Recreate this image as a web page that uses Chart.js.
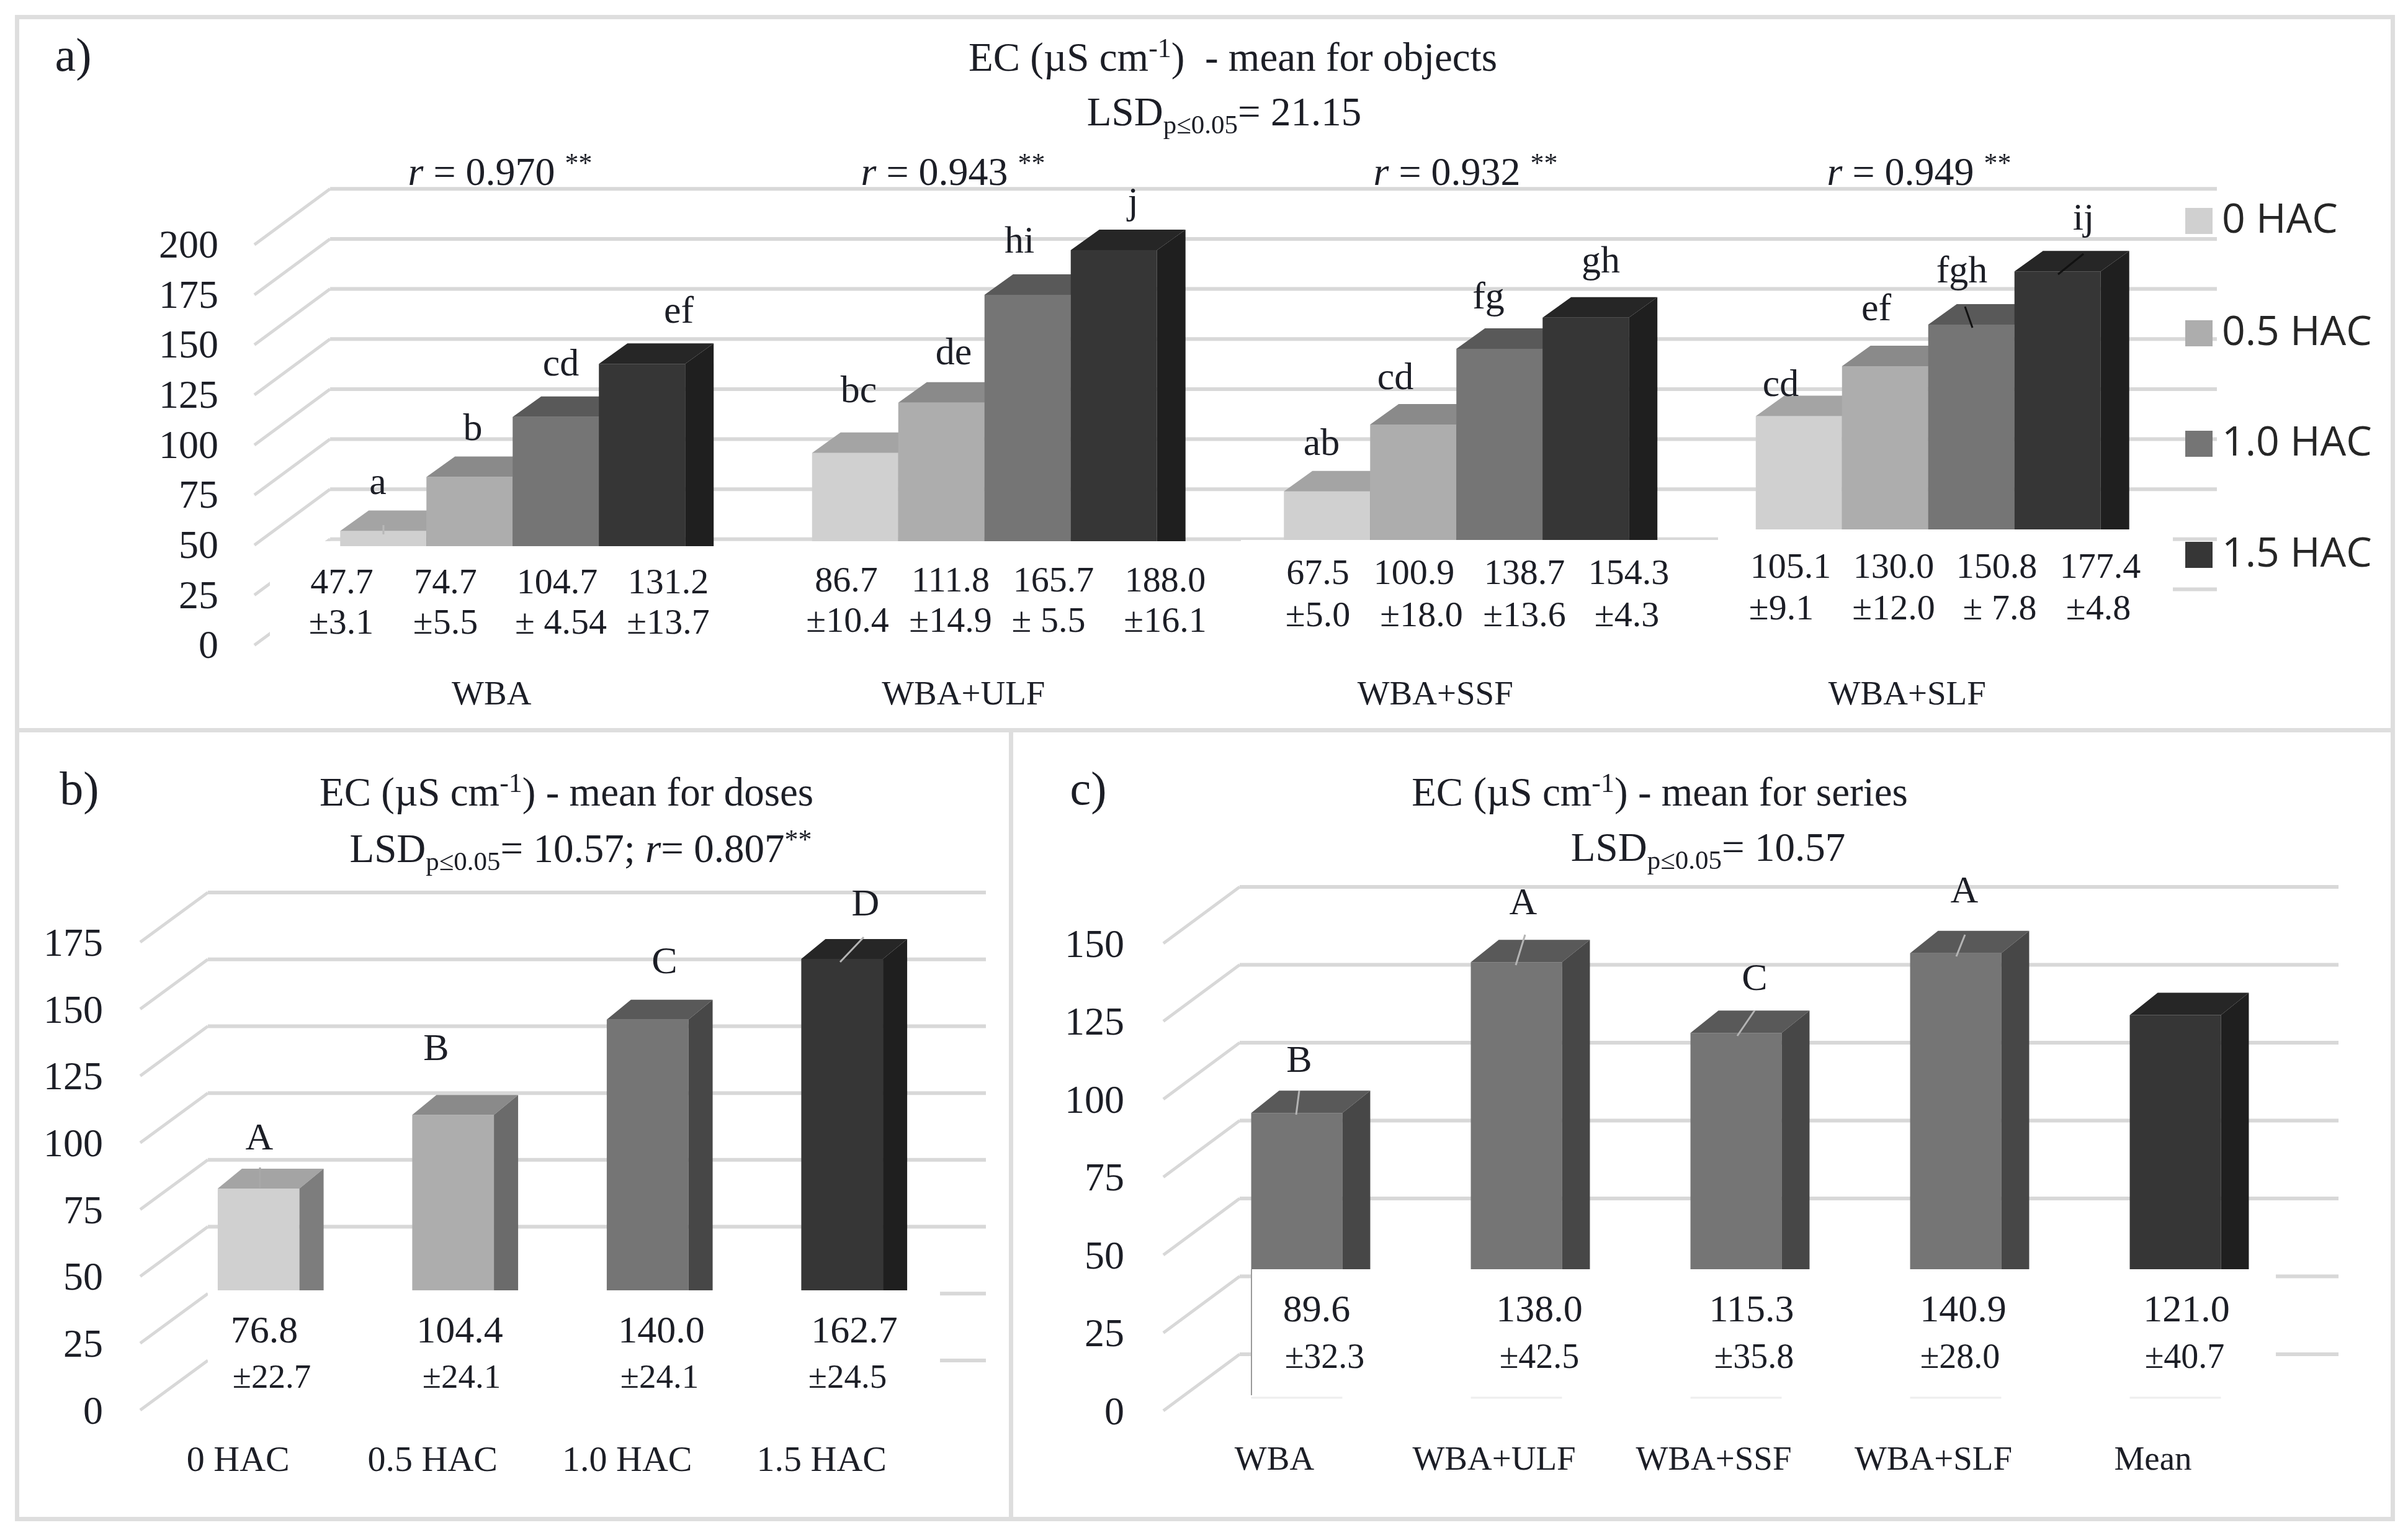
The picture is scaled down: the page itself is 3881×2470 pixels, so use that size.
<!DOCTYPE html>
<html>
<head>
<meta charset="utf-8">
<title>EC mean</title>
<script src="https://cdn.jsdelivr.net/npm/chart.js@4"></script>
<style>
  html, body { margin: 0; padding: 0; background: #fff; overflow: hidden; }
  canvas { position: absolute; left: 0; top: 0; }
  .box { position: absolute; border: 7px solid #dedede; box-sizing: border-box; }
</style>
</head>
<body>
<div class="box" style="left:24px;top:24px;width:3836px;height:1156px"></div>
<div class="box" style="left:24px;top:1173px;width:1609px;height:1278px"></div>
<div class="box" style="left:1626px;top:1173px;width:2234px;height:1278px"></div>
<canvas id="chartA" width="3881" height="2470"></canvas>
<canvas id="chartB" width="3881" height="2470"></canvas>
<canvas id="chartC" width="3881" height="2470"></canvas>
<script>
// data
const objects = ["WBA", "WBA+ULF", "WBA+SSF", "WBA+SLF"];
const doses = ["0 HAC", "0.5 HAC", "1.0 HAC", "1.5 HAC"];
const series = ["WBA", "WBA+ULF", "WBA+SSF", "WBA+SLF", "Mean"];

const hac0 = [47.7, 86.7, 67.5, 105.1];
const hac05 = [74.7, 111.8, 100.9, 130.0];
const hac10 = [104.7, 165.7, 138.7, 150.8];
const hac15 = [131.2, 188.0, 154.3, 177.4];
const objectSd = [
  ["±3.1", "±10.4", "±5.0", "±9.1"],
  ["±5.5", "±14.9", "±18.0", "±12.0"],
  ["± 4.54", "± 5.5", "±13.6", "± 7.8"],
  ["±13.7", "±16.1", "±4.3", "±4.8"]
];
const objectLetters = [
  ["a", "bc", "ab", "cd"],
  ["b", "de", "cd", "ef"],
  ["cd", "hi", "fg", "fgh"],
  ["ef", "j", "gh", "ij"]
];
const objectR = ["0.970", "0.943", "0.932", "0.949"];

const doseMeans = [76.8, 104.4, 140.0, 162.7];
const doseSd = ["±22.7", "±24.1", "±24.1", "±24.5"];
const doseLetters = ["A", "B", "C", "D"];

const seriesMeans = [89.6, 138.0, 115.3, 140.9, 121.0];
const seriesSd = ["±32.3", "±42.5", "±35.8", "±28.0", "±40.7"];
const seriesLetters = ["B", "A", "C", "A", ""];

const tickStep = 25;

// colours: front, top, side
const light = ["#d0d0d0", "#a4a4a4", "#7d7d7d"];
const mid = ["#adadad", "#8a8a8a", "#6b6b6b"];
const dark = ["#757575", "#595959", "#474747"];
const black = ["#363636", "#262626", "#1f1f1f"];

const SERIF = '"Liberation Serif", serif';
const TEXT = "#1c1e26";
const GRID = "#d8d8d8";

// text made of runs: {t, sup, sub, it}
function runs(ctx, parts, cx, cy, size) {
  ctx.textBaseline = "alphabetic";
  ctx.textAlign = "left";
  let total = 0;
  const fontOf = p => (p.it ? "italic " : "") + Math.round(p.sup ? size * 0.68 : p.sub ? size * 0.66 : size) + "px " + SERIF;
  parts.forEach(p => { ctx.font = fontOf(p); total += ctx.measureText(p.t).width; });
  let x = cx - total / 2;
  const base = cy + size * 0.3;
  parts.forEach(p => {
    ctx.font = fontOf(p);
    ctx.fillStyle = TEXT;
    const y = p.sup ? base - size * 0.33 : p.sub ? base + size * 0.2 : base;
    ctx.fillText(p.t, x, y);
    x += ctx.measureText(p.t).width;
  });
}

function label(ctx, text, x, y, size, color) {
  ctx.font = size + "px " + SERIF;
  ctx.fillStyle = color || TEXT;
  ctx.textAlign = "center";
  ctx.textBaseline = "middle";
  ctx.fillText(text, x, y);
}

function line(ctx, x1, y1, x2, y2, color, w) {
  ctx.strokeStyle = color;
  ctx.lineWidth = w;
  ctx.beginPath();
  ctx.moveTo(x1, y1);
  ctx.lineTo(x2, y2);
  ctx.stroke();
}

function face(ctx, pts, color) {
  ctx.fillStyle = color;
  ctx.beginPath();
  pts.forEach((p, i) => i ? ctx.lineTo(p[0], p[1]) : ctx.moveTo(p[0], p[1]));
  ctx.closePath();
  ctx.fill();
}

// pseudo 3D: walls behind the bars, top and side faces on the library's bars.
// chart.js paints the left dataset last, here it has to go first, so the bars get painted by hand
const walls = {
  id: "walls",
  beforeDatasetsDraw(chart, args, o) {
    const ctx = chart.ctx, y = chart.scales.y;
    ctx.save();
    y.ticks.forEach(t => {
      const p = y.getPixelForValue(t.value);
      line(ctx, o.frontX, p + o.front, o.backX, p - o.back, GRID, 5);
      line(ctx, o.backX, p - o.back, o.rightX, p - o.back, GRID, 6);
    });
    ctx.restore();
  },
  beforeDatasetDraw() {
    return false;
  },
  afterDatasetsDraw(chart, args, o) {
    const ctx = chart.ctx;
    chart.data.datasets.forEach((ds, d) => {
      const meta = chart.getDatasetMeta(d);
      meta.controller.draw();
      ctx.save();
      meta.data.forEach((bar, i) => {
        const c = ds.faces[i % ds.faces.length];
        const l = bar.x - bar.width / 2, r = bar.x + bar.width / 2;
        face(ctx, [[l, bar.y], [l + o.dx, bar.y - o.dy], [r + o.dx, bar.y - o.dy], [r, bar.y]], c[1]);
        face(ctx, [[r, bar.y], [r + o.dx, bar.y - o.dy], [r + o.dx, bar.base - o.dy], [r, bar.base]], c[2]);
      });
      ctx.restore();
    });
    ctx.save();
    ctx.fillStyle = "#fff";
    o.masks.forEach(m => ctx.fillRect(m[0], m[1], m[2], m[3]));
    ctx.restore();
    o.notes(ctx, chart);
  }
};

function makeChart(id, labels, datasets, yMax, a) {
  return new Chart(document.getElementById(id), {
    type: "bar",
    data: { labels: labels, datasets: datasets },
    plugins: [walls],
    options: {
      responsive: false,
      animation: false,
      devicePixelRatio: 1,
      layout: { padding: { left: 0, top: a.top, right: 3881 - a.right, bottom: 0 } },
      categoryPercentage: a.pct,
      barPercentage: 1,
      plugins: {
        legend: { display: false },
        tooltip: { enabled: false },
        walls: a.walls
      },
      scales: {
        x: {
          grid: { display: false, drawTicks: false },
          border: { display: false },
          afterFit(s) { s.height = 2470 - a.bottom; },
          ticks: {
            color: TEXT,
            font: { family: SERIF, size: a.xSize },
            padding: a.xPad,
            labelOffset: a.xOffset,
            maxRotation: 0,
            autoSkip: false
          }
        },
        y: {
          min: 0,
          max: yMax,
          grid: { display: false, drawTicks: false },
          border: { display: false },
          afterFit(s) { s.width = a.left; },
          ticks: {
            stepSize: tickStep,
            color: TEXT,
            autoSkip: false,
            font: { family: SERIF, size: a.ySize },
            padding: a.left - a.yRight,
            labelOffset: a.yOffset
          }
        }
      }
    }
  });
}

// a) label positions
const aValX = [[551, 1364, 2124, 2886], [718, 1532, 2279, 3052], [898, 1698, 2457, 3218], [1077, 1878, 2625, 3385]];
const aSdX = [[550, 1366, 2124, 2871], [718, 1532, 2291, 3052], [904, 1690, 2457, 3223], [1077, 1878, 2622, 3382]];
const aValY = [941, 938, 926, 916];
const aSdY = [1006, 1003, 994, 983];
const aLetX = [[609, 1384, 2130, 2870], [762, 1537, 2249, 3024], [904, 1643, 2399, 3162], [1094, 1826, 2580, 3358]];
const aLetY = [[780, 632, 717, 622], [693, 571, 611, 500], [589, 391, 481, 439], [504, 328, 423, 354]];
const aRX = [806, 1536, 2362, 3093];
const aLegendY = [356, 537, 715, 894];

const dsA = [
  { label: doses[0], data: hac0, backgroundColor: light[0], faces: [light] },
  { label: doses[1], data: hac05, backgroundColor: mid[0], faces: [mid] },
  { label: doses[2], data: hac10, backgroundColor: dark[0], faces: [dark] },
  { label: doses[3], data: hac15, backgroundColor: black[0], faces: [black] }
];

makeChart("chartA", objects, dsA, 200, {
  left: 446, right: 3488, top: 364.3, bottom: 1009.5, pct: 0.731,
  xSize: 55, xPad: 78, xOffset: -34, ySize: 64, yRight: 352, yOffset: 34,
  walls: {
    dx: 46, dy: 33, frontX: 410, backX: 532, rightX: 3573, front: 30, back: 60,
    masks: [[435, 872, 110, 208], [545, 880, 715, 200], [1260, 872, 740, 208], [2000, 870, 769, 210], [2769, 853, 733, 227]],
    notes(ctx) {
      label(ctx, "a)", 118, 94, 76);
      runs(ctx, [{ t: "EC (µS cm" }, { t: "-1", sup: 1 }, { t: ")  - mean for objects" }], 1987, 94, 65);
      runs(ctx, [{ t: "LSD" }, { t: "p≤0.05", sub: 1 }, { t: "= 21.15" }], 1973, 182, 65);
      aRX.forEach((x, i) => {
        runs(ctx, [{ t: "r", it: 1 }, { t: " = " + objectR[i] + " " }, { t: "**", sup: 1 }], x, 279, 64);
      });
      dsA.forEach((d, s) => {
        d.data.forEach((v, g) => {
          label(ctx, v.toFixed(1), aValX[s][g], aValY[g], 58);
          label(ctx, objectSd[s][g], aSdX[s][g], aSdY[g], 58);
          label(ctx, objectLetters[s][g], aLetX[s][g], aLetY[s][g], 62);
        });
        ctx.fillStyle = d.backgroundColor;
        ctx.fillRect(3522, aLegendY[s] - 21, 44, 42);
        ctx.font = '66px "Open Sans", sans-serif';
        ctx.fillStyle = "#262626";
        ctx.textAlign = "left";
        ctx.textBaseline = "middle";
        ctx.fillText(d.label, 3581, aLegendY[s]);
      });
      line(ctx, 618, 846, 618, 861, "#b8b8b8", 3);
      line(ctx, 3167, 494, 3179, 528, "#111", 3);
      line(ctx, 3358, 409, 3317, 442, "#111", 3);
    }
  }
});

// b) label positions
const bValX = [426, 741, 1066, 1377];
const bSdX = [438, 744, 1063, 1366];
const bLetX = [418, 703, 1071, 1395];
const bLetY = [1836, 1692, 1552, 1459];

makeChart("chartB", doses, [
  { label: "EC", data: doseMeans, backgroundColor: [light[0], mid[0], dark[0], black[0]], faces: [light, mid, dark, black] }
], 175, {
  left: 260, right: 1514, top: 1492, bottom: 2246, pct: 0.42,
  xSize: 58, xPad: 74, xOffset: -33, ySize: 64, yRight: 166, yOffset: 31,
  walls: {
    dx: 39, dy: 32, frontX: 226, backX: 335, rightX: 1589, front: 26, back: 54,
    masks: [[335, 2079, 1180, 231]],
    notes(ctx) {
      label(ctx, "b)", 128, 1276, 76);
      runs(ctx, [{ t: "EC (µS cm" }, { t: "-1", sup: 1 }, { t: ") - mean for doses" }], 913, 1278, 65);
      runs(ctx, [{ t: "LSD" }, { t: "p≤0.05", sub: 1 }, { t: "= 10.57; " }, { t: "r", it: 1 }, { t: "= 0.807" }, { t: "**", sup: 1 }], 936, 1369, 65);
      doseMeans.forEach((v, i) => {
        label(ctx, v.toFixed(1), bValX[i], 2147, 62);
        label(ctx, doseSd[i], bSdX[i], 2222, 55);
        label(ctx, doseLetters[i], bLetX[i], bLetY[i], 62);
      });
      line(ctx, 419, 1881, 419, 1914, "#a8a8a8", 3);
      line(ctx, 1392, 1510, 1354, 1550, "#b4b4b4", 3);
    }
  }
});

// c) label positions
const cValX = [2122, 2481, 2823, 3164, 3524];
const cSdX = [2135, 2481, 2827, 3159, 3521];
const cLetX = [2094, 2455, 2828, 3166];
const cLetY = [1711, 1457, 1579, 1438];

makeChart("chartC", series, [
  { label: "EC", data: seriesMeans, backgroundColor: [dark[0], dark[0], dark[0], dark[0], black[0]], faces: [dark, dark, dark, dark, black] }
], 150, {
  left: 1913, right: 3683, top: 1490, bottom: 2243, pct: 0.415,
  xSize: 55, xPad: 78, xOffset: -36, ySize: 64, yRight: 1812, yOffset: 35,
  walls: {
    dx: 45, dy: 36, frontX: 1875, backX: 1998, rightX: 3769, front: 30, back: 61,
    masks: [[2017, 2045, 1651, 217]],
    notes(ctx, chart) {
      label(ctx, "c)", 1754, 1276, 76);
      runs(ctx, [{ t: "EC (µS cm" }, { t: "-1", sup: 1 }, { t: ") - mean for series" }], 2675, 1278, 65);
      runs(ctx, [{ t: "LSD" }, { t: "p≤0.05", sub: 1 }, { t: "= 10.57" }], 2753, 1367, 65);
      seriesMeans.forEach((v, i) => {
        label(ctx, v.toFixed(1), cValX[i], 2113, 62);
        label(ctx, seriesSd[i], cSdX[i], 2189, 56);
        if (seriesLetters[i]) label(ctx, seriesLetters[i], cLetX[i], cLetY[i], 62);
      });
      line(ctx, 2017, 2045, 2017, 2248, "#9a9a9a", 2);
      chart.getDatasetMeta(0).data.forEach(b => {
        line(ctx, b.x - b.width / 2, 2252, b.x + b.width / 2, 2252, "#eeeeee", 3);
      });
      line(ctx, 2094, 1757, 2089, 1796, "#b4b4b4", 3);
      line(ctx, 2458, 1506, 2443, 1555, "#b4b4b4", 3);
      line(ctx, 2828, 1628, 2800, 1669, "#b4b4b4", 3);
      line(ctx, 3167, 1506, 3153, 1541, "#b4b4b4", 3);
    }
  }
});
</script>
</body>
</html>
